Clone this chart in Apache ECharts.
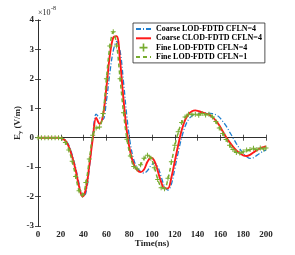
<!DOCTYPE html>
<html>
<head>
<meta charset="utf-8">
<script src="https://cdn.jsdelivr.net/npm/echarts@6/dist/echarts.min.js"></script>
<style>html,body{margin:0;padding:0;background:#fff;}#c{width:295px;height:255px;}</style>
</head>
<body>
<div id="c"></div>
<script>
// time samples (ns)
const T = [0,3,6,9,12,15,18,21,24,27,30,33,36,39,42,45,48,51,54,57,60,63,66,69,72,75,78,81,84,87,90,93,96,99,102,105,108,111,114,117,120,123,126,129,132,135,138,141,144,147,150,153,156,159,162,165,168,171,174,177,180,183,186,189,192,195,198,200];
// values in units of 1e-8 V/m
const coarseLOD = [0,0,0,0,0,0,0,-0.02,-0.08,-0.25,-0.58,-1.02,-1.55,-2.0,-1.88,-1.05,0.05,0.8,0.68,0.62,1.25,2.2,2.95,3.27,2.95,1.9,0.7,-0.2,-0.75,-1.02,-1.15,-1.2,-1.12,-0.95,-0.86,-0.98,-1.32,-1.66,-1.78,-1.58,-1.05,-0.5,0.0,0.38,0.62,0.74,0.8,0.83,0.84,0.84,0.83,0.82,0.78,0.7,0.56,0.4,0.2,0.0,-0.2,-0.38,-0.53,-0.64,-0.7,-0.68,-0.6,-0.52,-0.45,-0.42];
const coarseCLOD = [0,0,0,0,0,0,0,-0.02,-0.1,-0.3,-0.65,-1.1,-1.65,-2.0,-1.75,-0.95,-0.05,0.68,0.47,0.75,1.7,2.8,3.4,3.45,2.6,1.3,0.2,-0.5,-0.9,-1.1,-1.17,-1.08,-0.82,-0.68,-0.78,-1.12,-1.5,-1.72,-1.72,-1.35,-0.8,-0.25,0.25,0.6,0.8,0.9,0.93,0.9,0.86,0.82,0.78,0.7,0.58,0.42,0.22,0.02,-0.15,-0.3,-0.43,-0.53,-0.6,-0.62,-0.58,-0.5,-0.42,-0.36,-0.32,-0.3];
const fineCFL4 = [0,0,0,0,0,0,0,-0.03,-0.16,-0.42,-0.8,-1.32,-1.8,-1.95,-1.52,-0.72,0.08,0.33,0.36,0.82,2.0,3.12,3.6,3.12,2.0,0.85,-0.05,-0.62,-0.98,-1.06,-0.92,-0.7,-0.6,-0.7,-1.02,-1.42,-1.7,-1.73,-1.38,-0.82,-0.26,0.2,0.52,0.7,0.8,0.78,0.8,0.76,0.82,0.77,0.8,0.7,0.55,0.33,0.14,-0.06,-0.26,-0.4,-0.5,-0.52,-0.48,-0.42,-0.4,-0.36,-0.4,-0.35,-0.38,-0.35];
const fineCFL1 = [0,0,0,0,0,0,0,-0.03,-0.15,-0.4,-0.8,-1.3,-1.8,-1.95,-1.55,-0.75,0.05,0.32,0.35,0.8,2.0,3.1,3.6,3.15,2.0,0.85,-0.05,-0.62,-0.98,-1.04,-0.92,-0.72,-0.6,-0.68,-1.0,-1.4,-1.68,-1.72,-1.4,-0.85,-0.28,0.18,0.5,0.7,0.78,0.8,0.78,0.8,0.78,0.8,0.78,0.72,0.55,0.35,0.15,-0.05,-0.25,-0.4,-0.5,-0.53,-0.5,-0.45,-0.42,-0.38,-0.4,-0.36,-0.38,-0.35];
const seriesNames = ['Coarse LOD-FDTD CFLN=4','Coarse CLOD-FDTD CFLN=4','Fine LOD-FDTD CFLN=4','Fine LOD-FDTD CFLN=1'];
const xTicks = [0,20,40,60,80,100,120,140,160,180,200];
const yTicks = [-3,-2,-1,0,1,2,3,4];

const FF = 'Liberation Serif';
const AX = '#262626';
const BLUE = '#1f7fd0', RED = '#ff1a1a', GREEN = '#77ac30';
const pair = v => T.map((t,i)=>[t,v[i]]);
const plus = 'path://M0,2.4H6V3.6H0Z M2.4,0H3.6V6H2.4Z';

const chart = echarts.init(document.getElementById('c'), null, {renderer:'canvas'});
const baseX = {type:'value', min:xTicks[0], max:xTicks[xTicks.length-1], interval:20,
  axisLine:{show:true,lineStyle:{color:AX,width:0.8}}, axisTick:{show:true,inside:true,length:3,lineStyle:{color:AX,width:0.8}},
  splitLine:{show:false}};
const baseY = {type:'value', min:yTicks[0], max:yTicks[yTicks.length-1], interval:1,
  axisLine:{show:true,lineStyle:{color:AX,width:0.8}}, axisTick:{show:true,inside:true,length:3,lineStyle:{color:AX,width:0.8}},
  splitLine:{show:false}};
chart.setOption({
  animation:false,
  backgroundColor:'#fff',
  grid:{left:38,right:29,top:20,bottom:29,containLabel:false},
  xAxis:[
    Object.assign({}, baseX, {position:'bottom', axisLabel:{color:AX,fontFamily:FF,fontWeight:'bold',fontSize:9,margin:4},
      name:'Time(ns)', nameLocation:'middle', nameGap:13, nameMoveOverlap:false, nameTextStyle:{color:AX,fontFamily:FF,fontWeight:'bold',fontSize:9}}),
    Object.assign({}, baseX, {position:'top', axisLabel:{show:false}})
  ],
  yAxis:[
    Object.assign({}, baseY, {position:'left', axisLabel:{color:AX,fontFamily:FF,fontWeight:'bold',fontSize:9,margin:4},
      name:'{e|E}{s|y}{e| (V/m)}', nameLocation:'middle', nameGap:14, nameMoveOverlap:false,
      nameTextStyle:{color:AX,fontFamily:FF,fontWeight:'bold',fontSize:9,
        rich:{e:{fontFamily:FF,fontWeight:'bold',fontSize:9,color:AX},
              s:{fontFamily:FF,fontWeight:'bold',fontSize:6.5,color:AX,padding:[5,0,0,0]}}}}),
    Object.assign({}, baseY, {position:'right', axisLabel:{show:false}})
  ],
  graphic:[
    {type:'text', left:38, top:9, style:{text:'×10', fontFamily:FF, fontSize:8, fill:AX}},
    {type:'text', left:51, top:5, style:{text:'-8', fontFamily:FF, fontSize:6, fill:AX}}
  ],
  legend:{
    orient:'vertical', left:133, top:23, itemWidth:15, itemHeight:10, itemGap:1.3,
    padding:[2,3,2,2], borderColor:AX, borderWidth:0.8, backgroundColor:'#fff', borderRadius:0,
    textStyle:{fontFamily:FF,fontWeight:'bold',fontSize:8,color:'#000'},
    data:[
      {name:seriesNames[0], itemStyle:{opacity:0}},
      {name:seriesNames[1], itemStyle:{opacity:0}},
      {name:seriesNames[2]},
      {name:seriesNames[3], itemStyle:{opacity:0}}
    ]
  },
  series:[
    {name:seriesNames[0], type:'line', data:pair(coarseLOD), smooth:0.35, symbol:'none',
      lineStyle:{color:BLUE, width:1.3, type:[5,2,1,2]}, itemStyle:{color:BLUE}, z:2},
    {name:seriesNames[1], type:'line', data:pair(coarseCLOD), smooth:0.35, symbol:'none',
      lineStyle:{color:RED, width:1.9}, itemStyle:{color:RED}, z:3},
    {name:seriesNames[2], type:'line', data:pair(fineCFL4), symbol:plus, symbolSize:5, showSymbol:true,
      lineStyle:{opacity:0,width:0}, itemStyle:{color:GREEN}, z:4},
    {name:seriesNames[3], type:'line', data:pair(fineCFL1), smooth:0.35, symbol:'none',
      lineStyle:{color:GREEN, width:1.5, type:[4,3]}, itemStyle:{color:GREEN}, z:4}
  ]
});
</script>
</body>
</html>
